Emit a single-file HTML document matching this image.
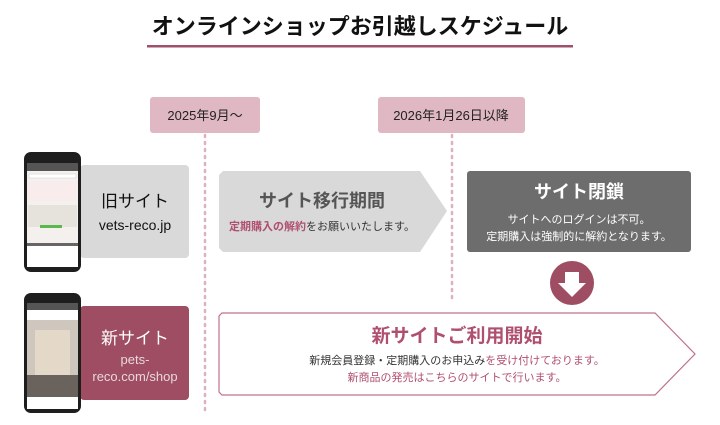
<!DOCTYPE html>
<html><head><meta charset="utf-8"><style>
body{margin:0;background:#fff;}
svg{display:block;font-family:"Liberation Sans","Noto Sans CJK JP",sans-serif;}
</style></head><body>
<svg width="720" height="425" viewBox="0 0 720 425">
<text x="360" y="34" text-anchor="middle" font-size="22" font-weight="bold" fill="#111">オンラインショップお引越しスケジュール</text>
<rect x="147" y="45" width="426" height="2.5" fill="#a0506a"/>
<rect x="150" y="97" width="110" height="36" rx="3" fill="#dfb8c3"/>
<text x="205" y="120" text-anchor="middle" font-size="13" fill="#222">2025年9月〜</text>
<rect x="378" y="97" width="147" height="36" rx="3" fill="#dfb8c3"/>
<text x="451" y="120" text-anchor="middle" font-size="13" fill="#222">2026年1月26日以降</text>
<line x1="205" y1="135" x2="205" y2="410" stroke="#dfb0bf" stroke-width="2.5" stroke-dasharray="2 5" stroke-linecap="round"/>
<line x1="452" y1="135" x2="452" y2="300" stroke="#dfb0bf" stroke-width="2.5" stroke-dasharray="2 5" stroke-linecap="round"/>
<!-- old site -->
<rect x="80" y="165" width="109" height="93" rx="4" fill="#d9d9d9"/>
<text x="135" y="207" text-anchor="middle" font-size="17" fill="#111">旧サイト</text>
<text x="135" y="230" text-anchor="middle" font-size="14" fill="#111">vets-reco.jp</text>
<rect x="24" y="152" width="57" height="120" rx="7" fill="#1e1e1e"/>
<rect x="27" y="163" width="51" height="104" fill="#f4f0ee"/>
<rect x="27" y="163" width="51" height="8" fill="#555"/>
<rect x="29" y="174" width="47" height="4" fill="#fff" stroke="#ccc" stroke-width=".5"/>
<rect x="28" y="181" width="49" height="20" fill="#f9ecec"/>
<rect x="28" y="205" width="49" height="22" fill="#e6e3dc"/>
<rect x="40" y="225" width="22" height="3" fill="#5bb84f"/>
<rect x="27" y="243" width="51" height="3" fill="#666"/>
<rect x="27" y="246" width="51" height="21" fill="#fff"/>
<!-- new site -->
<rect x="80" y="306" width="109" height="94" rx="4" fill="#9e4d62"/>
<text x="135" y="344" text-anchor="middle" font-size="17" fill="#fff">新サイト</text>
<text x="135" y="364" text-anchor="middle" font-size="13" fill="#e8d8dc">pets-</text>
<text x="135" y="381" text-anchor="middle" font-size="13" fill="#e8d8dc">reco.com/shop</text>
<rect x="24" y="293" width="57" height="120" rx="7" fill="#1e1e1e"/>
<rect x="27" y="303" width="51" height="106" fill="#fff"/>
<rect x="27" y="303" width="51" height="7" fill="#555"/>
<rect x="27" y="320" width="51" height="77" fill="#cfc6bd"/>
<rect x="35" y="330" width="35" height="45" fill="#e4d8c8"/>
<rect x="27" y="375" width="51" height="22" fill="#6a625c"/>
<!-- transition arrow -->
<polygon points="219,175 223,171 420,171 447,211 420,252 223,252 219,248" fill="#d9d9d9"/>
<text x="322" y="207" text-anchor="middle" font-size="18" font-weight="bold" fill="#555">サイト移行期間</text>
<text x="322" y="230" text-anchor="middle" font-size="11" fill="#333"><tspan fill="#b05070" font-weight="bold">定期購入の解約</tspan>をお願いいたします。</text>
<!-- closed -->
<rect x="467" y="171" width="224" height="81" rx="3" fill="#6d6d6d"/>
<text x="579" y="198" text-anchor="middle" font-size="18" font-weight="bold" fill="#fff">サイト閉鎖</text>
<text x="579" y="223" text-anchor="middle" font-size="11" fill="#fff">サイトへのログインは不可。</text>
<text x="579" y="240" text-anchor="middle" font-size="11" fill="#fff">定期購入は強制的に解約となります。</text>
<circle cx="572" cy="283" r="22" fill="#9e4d62"/>
<polygon points="565,272 579,272 579,283 586,283 572,297 558,283 565,283" fill="#fff"/>
<!-- new start -->
<polygon points="222,313 655,313 695,354 655,395 222,395 219,392 219,316" fill="#fff" stroke="#c07088" stroke-width="1.2"/>
<text x="457" y="342" text-anchor="middle" font-size="19" font-weight="bold" fill="#b05070">新サイトご利用開始</text>
<text x="457" y="364" text-anchor="middle" font-size="11" fill="#333">新規会員登録・定期購入のお申込み<tspan fill="#b05070">を受け付けております。</tspan></text>
<text x="457" y="381" text-anchor="middle" font-size="11" fill="#b05070">新商品の発売はこちらのサイトで行います。</text>
</svg>
</body></html>
